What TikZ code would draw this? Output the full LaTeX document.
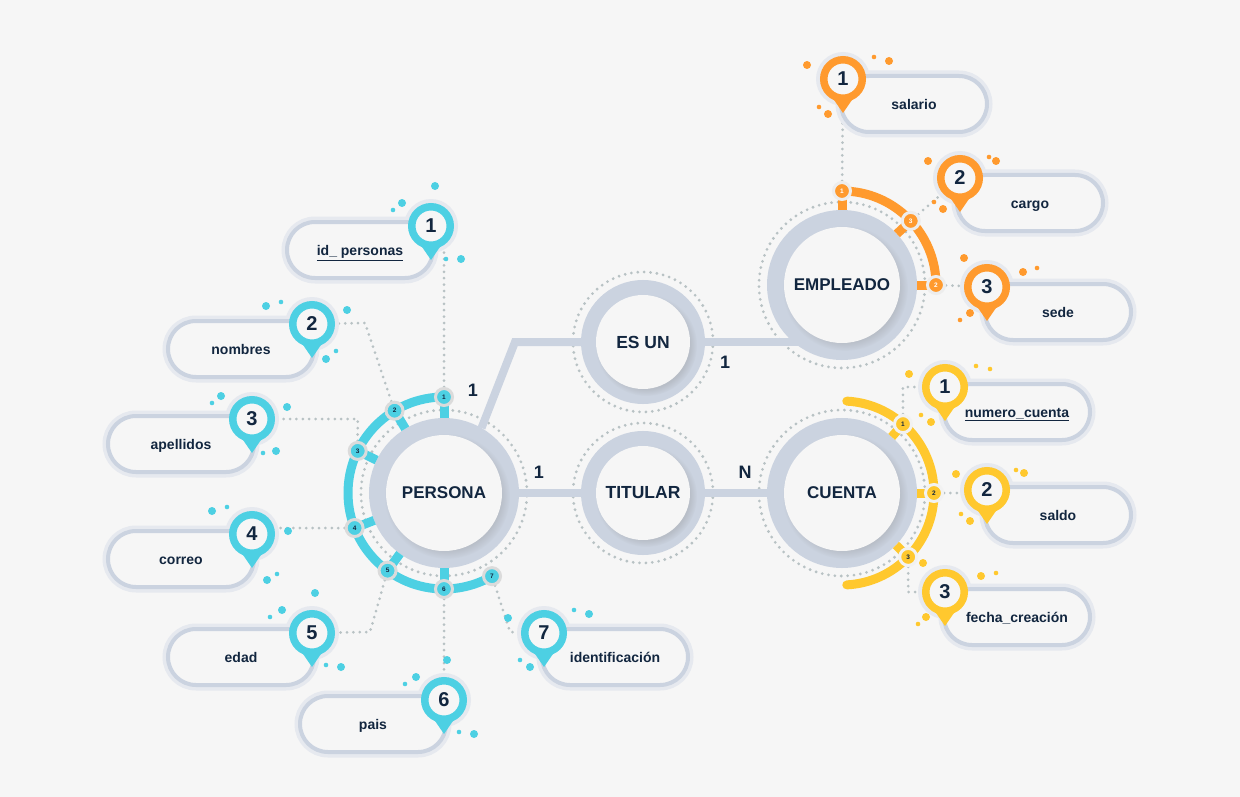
\documentclass[tikz,border=0pt]{standalone}
\usepackage{fontspec}
\setmainfont{Liberation Sans}
\usetikzlibrary{shapes.misc,shadows,calc}
\definecolor{paper}{HTML}{F6F6F6}
\definecolor{ringgrey}{HTML}{CBD3E0}
\definecolor{halogrey}{HTML}{E6E9EF}
\definecolor{dotgrey}{HTML}{B8C2C4}
\definecolor{inkblue}{HTML}{12263F}
\definecolor{cyanmark}{HTML}{4DD0E3}
\definecolor{orangemark}{HTML}{FF9A2E}
\definecolor{yellowmark}{HTML}{FFC82E}
\pgfdeclarelayer{back}
\pgfsetlayers{back,main}
\tikzset{
   entity/.style={circle, fill=paper, text=inkblue, inner sep=0pt, outer sep=17pt,
      minimum size=116pt, font=\bfseries\fontsize{17}{20}\selectfont,
      preaction={draw=ringgrey, line width=34pt},
      circular drop shadow={shadow xshift=3pt, shadow yshift=-3pt, shadow scale=1.08, opacity=.25}},
   relation/.style={circle, fill=paper, text=inkblue, inner sep=0pt, outer sep=15pt,
      minimum size=94pt, font=\bfseries\fontsize{17.5}{20}\selectfont,
      preaction={draw=ringgrey, line width=30pt},
      circular drop shadow={shadow xshift=3pt, shadow yshift=-3pt, shadow scale=1.08, opacity=.25}},
   dotring/.style={circle, draw=dotgrey, line width=3.1pt, line cap=round,
      dash pattern=on 0pt off 6.4pt, minimum size=#1, inner sep=0pt},
   link/.style={draw=ringgrey, line width=8pt},
   dotlink/.style={draw=dotgrey, line width=3pt, line cap=round, dash pattern=on 0pt off 6.4pt},
   card/.style={text=inkblue, font=\bfseries\fontsize{18}{20}\selectfont, inner sep=0pt},
   pill/.style={rounded rectangle, fill=paper, draw=ringgrey, line width=4pt, text=inkblue,
      minimum width=146pt, minimum height=56pt, inner sep=0pt, text height=12pt, text depth=1pt,
      font=\bfseries\fontsize{14}{16}\selectfont,
      preaction={draw=halogrey, line width=11pt}},
   pinhalo/.style={fill=halogrey},
   pinhead/.style={circle, fill=paper, draw=#1, line width=7.5pt, minimum size=38.5pt, inner sep=0pt,
      text=inkblue, font=\bfseries\fontsize{20}{22}\selectfont},
   pintip/.style={fill=#1},
   arcband/.style={draw=#1, line width=9pt},
   spoke/.style={draw=#1, line width=9pt},
   tick/.style n args={3}{circle, fill=#1, draw=#2, line width=3pt, minimum size=17pt, inner sep=0pt,
      text=#3, font=\bfseries\fontsize{6.5}{7}\selectfont},
}
\begin{document}
\begin{tikzpicture}[x=1pt, y=-1pt]
   \useasboundingbox (0,0) rectangle (1240,797);
   \begin{pgfonlayer}{back}
      \fill[paper] (0,0) rectangle (1240,797);
   \end{pgfonlayer}

   % Entities and relations
   \node[entity] (persona) at (444,493) {PERSONA};
   \node[relation] (esun) at (643,342) {ES UN};
   \node[relation] (titular) at (643,493) {TITULAR};
   \node[entity] (empleado) at (842,285) {EMPLEADO};
   \node[entity] (cuenta) at (842,493) {CUENTA};
   \coordinate (bend) at (515,342);

   \node[card] (c1) at (473,390) {1};
   \node[card] (c2) at (539,472) {1};
   \node[card] (c3) at (725,362) {1};
   \node[card] (c4) at (745,472) {N};

   \begin{pgfonlayer}{back}
      \node[dotring=166pt] (dpersona) at (persona) {};
      \node[dotring=140pt] (desun) at (esun) {};
      \node[dotring=140pt] (dtitular) at (titular) {};
      \node[dotring=166pt] (dempleado) at (empleado) {};
      \node[dotring=166pt] (dcuenta) at (cuenta) {};
      \draw[link] (persona.60) -- (bend) -- (esun);
      \draw[link] (esun) -- (esun -| empleado);
      \draw[link] (persona) -- (titular);
      \draw[link] (titular) -- (cuenta);
   \end{pgfonlayer}

   % Rings with numbered ticks
   \draw[arcband=cyanmark] ([shift={(90:96pt)}]persona.center) arc[start angle=90, end angle=-60+360, radius=96pt];
   \foreach \i/\a in {1/90,2/121,3/154,4/201.4,5/234,6/270} {
      \draw[spoke=cyanmark] (persona) -- ($(persona.center)+(\a:96pt)$)
         node[tick={cyanmark}{black!14}{inkblue}] (sA\i) {\i};
   }
   \node[tick={cyanmark}{black!14}{inkblue}] (sA7) at ($(persona.center)+(300:96pt)$) {7};

   \draw[arcband=orangemark] ([shift={(90:94pt)}]empleado.center) arc[start angle=90, end angle=0, radius=94pt];
   \foreach \i/\a in {1/90,3/43,2/0} {
      \draw[spoke=orangemark] (empleado) -- ($(empleado.center)+(\a:94pt)$)
         node[tick={orangemark}{black!7}{white}] (sB\i) {\i};
   }

   \draw[arcband=yellowmark, line cap=round] ([shift={(87:92pt)}]cuenta.center) arc[start angle=87, end angle=-87, radius=92pt];
   \foreach \i/\a in {1/48.5,2/0,3/-44} {
      \draw[spoke=yellowmark] (cuenta) -- ($(cuenta.center)+(\a:92pt)$)
         node[tick={yellowmark}{black!5}{inkblue}] (sC\i) {\i};
   }

   % Attribute cards, the halo of each pin goes under its card
   \foreach \i/\px/\py/\tx/\ty/\txt in {
      1/431/226/360/250/{\underline{id\_ personas}},
      2/312/324/241/349/{nombres},
      3/252/419/181/444/{apellidos},
      4/252/534/181/559/{correo},
      5/312/633/241/657/{edad},
      6/444/700/373/724/{pais},
      7/544/633/615/657/{identificación}} {
      \fill[pinhalo] (\px,\py) circle[radius=27pt];
      \node[pill] (pillA\i) at (\tx,\ty) {\txt};
   }
   \foreach \i/\px/\py/\tx/\ty/\txt in {
      1/843/79/914/104/{salario},
      2/960/178/1030/203/{cargo},
      3/987/287/1058/312/{sede}} {
      \fill[pinhalo] (\px,\py) circle[radius=27pt];
      \node[pill] (pillB\i) at (\tx,\ty) {\txt};
   }
   \foreach \i/\px/\py/\tx/\ty/\txt in {
      1/945/387/1017/412/{\underline{numero\_cuenta}},
      2/987/490/1058/515/{saldo},
      3/945/592/1017/617/{fecha\_creación}} {
      \fill[pinhalo] (\px,\py) circle[radius=27pt];
      \node[pill] (pillC\i) at (\tx,\ty) {\txt};
   }

   % Pins
   \foreach \g/\c/\list in {
      A/cyanmark/{1/431/226,2/312/324,3/252/419,4/252/534,5/312/633,6/444/700,7/544/633},
      B/orangemark/{1/843/79,2/960/178,3/987/287},
      C/yellowmark/{1/945/387,2/987/490,3/945/592}} {
      \foreach \i/\px/\py in \list {
         \node[pinhead=\c] (pin\g\i) at (\px,\py) {\i};
         \fill[pintip=\c] ([shift={(-11pt,-18pt)}]pin\g\i.center) -- ([yshift=-34pt]pin\g\i.center)
            -- ([shift={(11pt,-18pt)}]pin\g\i.center) -- cycle;
      }
   }

   % Dotted leaders
   \coordinate (bendA2) at (365,323);
   \coordinate (bendA5) at (370,632);
   \coordinate (bendA7) at (510,632);
   \begin{pgfonlayer}{back}
      \draw[dotlink] (sA1) -- (sA1 |- pinA1);
      \draw[dotlink] (sA2) -- (bendA2) -- (pinA2);
      \draw[dotlink] (sA3) -- (sA3 |- pinA3) -- (pinA3);
      \draw[dotlink] (sA4) -- (sA4 -| pinA4);
      \draw[dotlink] (sA5) -- (bendA5) -- (pinA5);
      \draw[dotlink] (sA6) -- (sA6 |- pinA6);
      \draw[dotlink] (sA7) -- (bendA7) -- (pinA7);
      \draw[dotlink] (sB1) -- (pinB1);
      \draw[dotlink] (sB3) -- (pinB2);
      \draw[dotlink] (sB2) -- (pinB3);
      \draw[dotlink] (sC1) -- (sC1 |- pinC1) -- (pinC1);
      \draw[dotlink] (sC2) -- (sC2 -| pinC2);
      \draw[dotlink] (sC3) -- (sC3 |- pinC3) -- (pinC3);
   \end{pgfonlayer}

   % Sparks round the pins
   \foreach \x/\y/\r in {435/186/4,402/203/4,393/210/2.3,461/259/4,446/259/2.3,
      266/306/4,281/302/2.3,347/310/4,326/359/4,336/351/2.3,
      221/396/4,212/403/2.3,287/407/4,276/451/4,263/453/2.3,
      212/511/4,227/507/2.3,288/531/4,267/580/4,277/574/2.3,
      315/593/4,282/610/4,270/617/2.3,341/667/4,326/665/2.3,
      447/660/4,416/677/4,405/684/2.3,474/734/4,459/732/2.3,
      508/618/4,574/610/2.3,589/614/4,530/667/4,520/660/2.3} {
      \fill[cyanmark] (\x,\y) circle[radius=\r pt];
   }
   \foreach \x/\y/\r in {807/65/4,874/57/2.3,889/61/4,828/114/4,819/107/2.3,
      928/161/4,989/157/2.3,996/161/4,943/209/4,934/202/2.3,
      964/258/4,1023/272/4,1037/268/2.3,970/313/4,960/320/2.3} {
      \fill[orangemark] (\x,\y) circle[radius=\r pt];
   }
   \foreach \x/\y/\r in {909/374/4,976/366/2.3,990/369/2.3,931/422/4,921/415/2.3,
      956/474/4,1016/470/2.3,1024/473/4,970/521/4,961/514/2.3,
      923/563/4,981/576/4,996/573/2.3,926/617/4,918/624/2.3} {
      \fill[yellowmark] (\x,\y) circle[radius=\r pt];
   }
\end{tikzpicture}
\end{document}
